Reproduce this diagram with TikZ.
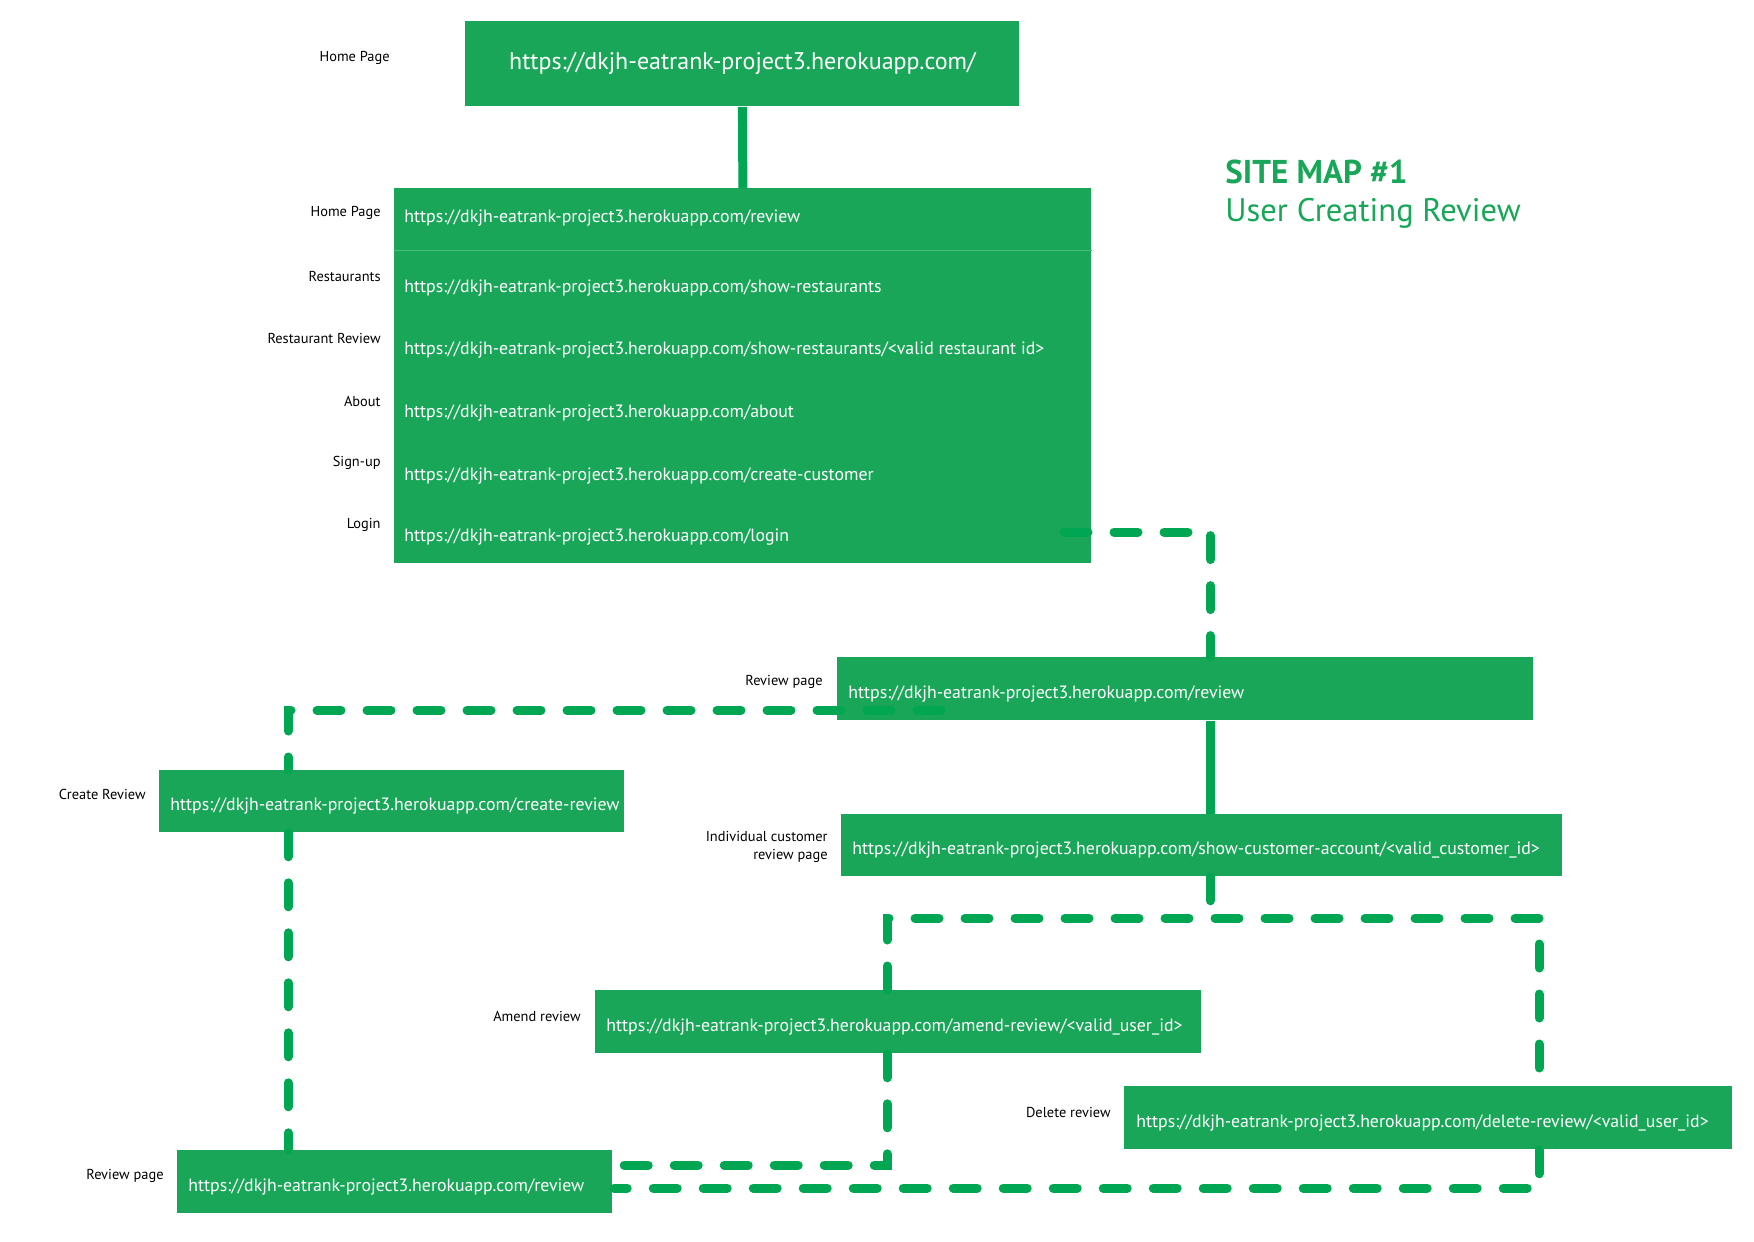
\documentclass[tikz,border=0pt]{standalone}
\usepackage{fontspec}
\setmainfont{PT Sans}
\usetikzlibrary{calc}
\definecolor{boxg}{RGB}{26,166,89}
\definecolor{lineg}{RGB}{0,166,81}
\definecolor{sepg}{RGB}{70,190,120}
\begin{document}
\begin{tikzpicture}[x=0.5pt,y=-0.5pt,
  box/.style={fill=boxg, draw=none, inner sep=0pt, anchor=north west},
  url/.style={text=white, font=\fontsize{8.9}{10}\selectfont, anchor=west, inner sep=0pt},
  lab/.style={font=\fontsize{7.2}{8.6}\selectfont, anchor=east, inner sep=0pt, align=right},
  conn/.style={draw=lineg, line width=4.5pt},
  dconn/.style={conn, line cap=round, dash pattern=on 12pt off 13pt}]
\useasboundingbox (0,0) rectangle (1754,1241);

% boxes
\node[box, minimum width=277pt, minimum height=42.5pt] (top) at (465,21) {};
\node[box, minimum width=348.5pt, minimum height=187.5pt] (big) at (394,188) {};
\node[box, minimum width=348pt, minimum height=31.5pt] (rev) at (837,657) {};
\node[box, minimum width=360.5pt, minimum height=31pt] (cust) at (841,814) {};
\node[box, minimum width=303pt, minimum height=31.5pt] (amend) at (595,990) {};
\node[box, minimum width=304pt, minimum height=31.5pt] (del) at (1124,1086) {};
\node[box, minimum width=232.5pt, minimum height=31pt] (create) at (159,770) {};
\node[box, minimum width=217.5pt, minimum height=31.5pt] (bot) at (177,1150) {};

\coordinate (sepy) at (0,250);
\draw[sepg, line width=0.4pt] (big.west |- sepy) -- (big.east |- sepy);

% texts in boxes
\node[url, anchor=center, font=\fontsize{12}{14}\selectfont] (toptxt) at (top.center) {https://dkjh-eatrank-project3.herokuapp.com/};
\node[url] (r1) at (404,218) {https://dkjh-eatrank-project3.herokuapp.com/review};
\node[url] (r2) at (404,288) {https://dkjh-eatrank-project3.herokuapp.com/show-restaurants};
\node[url] (r3) at (404,350) {https://dkjh-eatrank-project3.herokuapp.com/show-restaurants/<valid restaurant id>};
\node[url] (r4) at (404,413) {https://dkjh-eatrank-project3.herokuapp.com/about};
\node[url] (r5) at (404,476) {https://dkjh-eatrank-project3.herokuapp.com/create-customer};
\node[url] (r6) at (404,537) {https://dkjh-eatrank-project3.herokuapp.com/login};
\node[url] (revtxt) at (848,694) {https://dkjh-eatrank-project3.herokuapp.com/review};
\node[url] (custtxt) at (852,850) {https://dkjh-eatrank-project3.herokuapp.com/show-customer-account/<valid\_customer\_id>};
\node[url] (amendtxt) at (606,1027) {https://dkjh-eatrank-project3.herokuapp.com/amend-review/<valid\_user\_id>};
\node[url] (deltxt) at (1136,1123) {https://dkjh-eatrank-project3.herokuapp.com/delete-review/<valid\_user\_id>};
\node[url] (createtxt) at (170,806) {https://dkjh-eatrank-project3.herokuapp.com/create-review};
\node[url] (bottxt) at (188,1187) {https://dkjh-eatrank-project3.herokuapp.com/review};

% labels
\node[lab] (l0) at (390,58) {Home Page};
\node[lab] (l1) at (381,213) {Home Page};
\node[lab] (l2) at (381,276) {Restaurants};
\node[lab] (l3) at (381,338) {Restaurant Review};
\node[lab] (l4) at (381,401) {About};
\node[lab] (l5) at (381,463) {Sign-up};
\node[lab] (l6) at (381,525) {Login};
\node[lab] (lrev) at (823,682) {Review page};
\node[lab] (lcust) at (828,847) {Individual customer\\review page};
\node[lab] (lamend) at (581,1016) {Amend review};
\node[lab] (ldel) at (1111,1112) {Delete review};
\node[lab] (lcreate) at (146,794) {Create Review};
\node[lab] (lbot) at (164,1176) {Review page};

% title
\node[anchor=west, inner sep=0pt, text=boxg, font=\bfseries\fontsize{16.5}{19}\selectfont] (t1) at (1225,172) {SITE MAP \#1};
\node[anchor=west, inner sep=0pt, text=boxg, font=\fontsize{16.3}{19}\selectfont] (t2) at (1225,213) {User Creating Review};

% connectors
\draw[conn] (top.south) -- (big.north);
\coordinate (lstart) at (1064,532);
\draw[dconn] (lstart) -| ($(rev.north)+(25,0)$);
\draw[conn] ($(rev.south)+(25,0)$) coordinate (s1) -- (s1 |- cust.north);
\coordinate (hy) at (0,918);
\coordinate (a1) at ($(amend.north west)+(292,0)$);
\coordinate (d1) at ($(del.north west)+(415,0)$);
\draw[dconn] (s1 |- cust.south) -- (s1 |- hy);
\draw[dconn] (a1) -- (a1 |- hy) -- (d1 |- hy) -- (d1);
\coordinate (ae) at (599,1165);
\draw[dconn] (a1 |- amend.south) |- (ae);
\coordinate (de) at (614,1188);
\draw[dconn] (d1 |- del.south) |- (de);
\coordinate (rs) at (941,710);
\draw[dconn] (rs) -| ($(create.north west)+(129,0)$);
\draw[dconn] ($(create.south west)+(129,0)$) -- ($(bot.north west)+(111,0)$);
\end{tikzpicture}
\end{document}
